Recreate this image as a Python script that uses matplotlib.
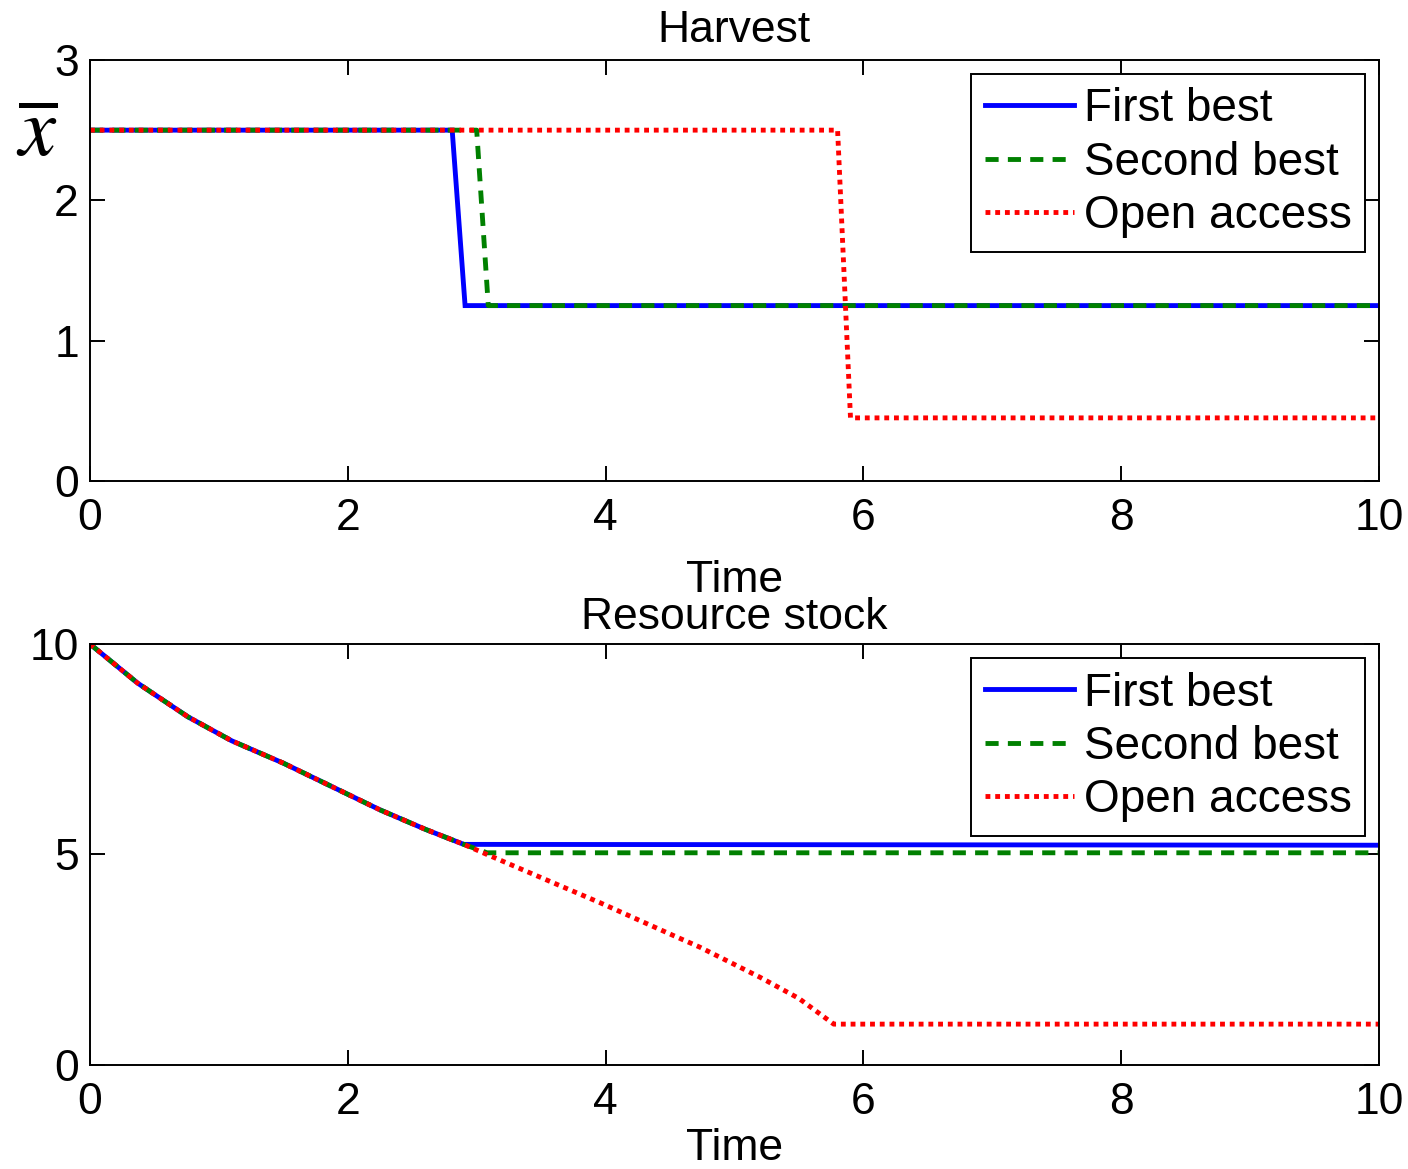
import numpy as np
import matplotlib
matplotlib.use("Agg")
import matplotlib.pyplot as plt

plt.rcParams["font.family"] = ["Liberation Sans", "DejaVu Sans"]
plt.rcParams["mathtext.fontset"] = "stix"

# harvest paths (time, value)
harvest_first_t = [0, 2.81, 2.91, 10]
harvest_first = [2.5, 2.5, 1.25, 1.25]
harvest_second_t = [0, 3.0, 3.09, 10]
harvest_second = [2.5, 2.5, 1.25, 1.25]
harvest_open_t = [0, 5.8, 5.9, 10]
harvest_open = [2.5, 2.5, 0.45, 0.45]

# resource stock, common part before the paths split
stock_t = [0, 0.37, 0.76, 1.1, 1.5, 2.0, 2.25, 2.6, 2.9]
stock_path = [10, 9.07, 8.27, 7.7, 7.17, 6.43, 6.06, 5.6, 5.24]
stock_first_t = stock_t + [10]
stock_first = stock_path + [5.22]
stock_second_t = stock_t + [3.08, 10]
stock_second = stock_path + [5.04, 5.04]
stock_open_t = stock_t + [3.08, 3.5, 3.96, 4.5, 4.73, 5.2, 5.5, 5.77, 10]
stock_open = stock_path + [5.0, 4.45, 3.85, 3.11, 2.80, 2.08, 1.58, 0.97, 0.97]

labels = ["First best", "Second best", "Open access"]
FS = 32
LW = 3.5

fig = plt.figure(figsize=(14.08, 11.69), dpi=100)
ax1 = fig.add_axes([0.0639, 0.5885, 0.9155, 0.3602])
ax2 = fig.add_axes([0.0639, 0.0890, 0.9155, 0.3601])


def style_axes(ax):
    for s in ax.spines.values():
        s.set_linewidth(1.4)
    ax.tick_params(direction="in", length=11, width=1.4, top=True, right=True,
                   labelsize=FS)
    ax.tick_params(axis="x", pad=12)
    ax.tick_params(axis="y", pad=8)
    ax.set_xlim(0, 10)
    ax.set_xticks([0, 2, 4, 6, 8, 10])


def draw(ax, series):
    (t1, y1), (t2, y2), (t3, y3) = series
    ax.plot(t1, y1, color="#0000ff", lw=LW, solid_joinstyle="miter", label=labels[0])
    ax.plot(t2, y2, color="#008000", lw=LW, linestyle=(0, (2.7, 1.9)), label=labels[1])
    ax.plot(t3, y3, color="#ff0000", lw=LW, linestyle=(0, (1, 1)), label=labels[2])
    leg = ax.legend(loc="upper right", fontsize=33, fancybox=False, framealpha=1,
                    edgecolor="black", borderaxespad=0.3, handlelength=1.95,
                    handletextpad=0.2, borderpad=0.3, labelspacing=0.2)
    leg.get_frame().set_linewidth(1.4)


draw(ax1, [(harvest_first_t, harvest_first),
           (harvest_second_t, harvest_second),
           (harvest_open_t, harvest_open)])
style_axes(ax1)
ax1.set_ylim(0, 3)
ax1.set_yticks([0, 1, 2, 3])
ax1.set_title("Harvest", fontsize=FS, pad=13)
ax1.set_xlabel("Time", fontsize=FS, labelpad=15)

draw(ax2, [(stock_first_t, stock_first),
           (stock_second_t, stock_second),
           (stock_open_t, stock_open)])
style_axes(ax2)
ax2.set_ylim(0, 10)
ax2.set_yticks([0, 5, 10])
ax2.set_title("Resource stock", fontsize=FS, pad=11)
ax2.set_xlabel("Time", fontsize=FS, labelpad=4)

fig.text(0.026, 0.886, r"$\overline{x}$", fontsize=60, ha="center", va="center")

fig.savefig("out.png", dpi=100)
